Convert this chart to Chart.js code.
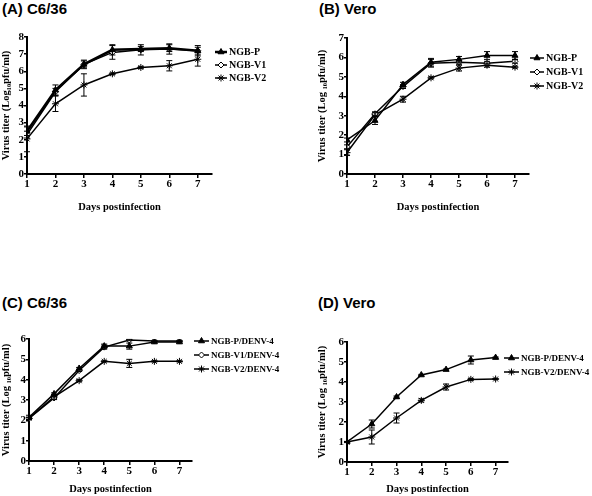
<!DOCTYPE html>
<html>
<head>
<meta charset="utf-8">
<script src="https://cdn.jsdelivr.net/npm/chart.js@4/dist/chart.umd.min.js"></script>
<style>
  body { margin: 0; background: #fff; width: 592px; height: 496px; position: relative; overflow: hidden; }
  canvas { position: absolute; }
  .ttl { position: absolute; font: bold 15px "Liberation Sans", Arial, sans-serif; line-height: 15px; color: #000; white-space: nowrap; }
</style>
</head>
<body>
<div class="ttl" style="left:2px;top:1px">(A) C6/36</div>
<div class="ttl" style="left:319px;top:1px">(B) Vero</div>
<div class="ttl" style="left:2px;top:295px">(C) C6/36</div>
<div class="ttl" style="left:318px;top:295px">(D) Vero</div>

<canvas id="cA" width="296" height="220" style="left:0;top:0"></canvas>
<canvas id="cB" width="296" height="220" style="left:296px;top:0"></canvas>
<canvas id="cC" width="296" height="248" style="left:0;top:248px"></canvas>
<canvas id="cD" width="296" height="248" style="left:296px;top:248px"></canvas>

<script>
// days post infection
const days = [1, 2, 3, 4, 5, 6, 7];

// (A) C6/36
const aP = [2.5, 4.9, 6.4, 7.25, 7.3, 7.35, 7.2];
const aPErr = [0.25, 0.3, 0.25, 0.3, 0.15, 0.2, 0.3];
const aV1 = [2.3, 4.8, 6.4, 7.1, 7.25, 7.3, 7.2];
const aV1Err = [0.2, 0.2, 0.2, 0.4, 0.3, 0.3, 0.2];
const aV2 = [2.05, 4.1, 5.2, 5.85, 6.22, 6.32, 6.7];
const aV2Err = [0.75, 0.45, 0.65, 0.05, 0.05, 0.3, 0.4];

// (B) Vero
const bP = [1.75, 2.75, 4.6, 5.75, 5.9, 6.1, 6.1];
const bPErr = [0.1, 0.2, 0.12, 0.2, 0.15, 0.2, 0.2];
const bV1 = [1.4, 3.1, 4.5, 5.7, 5.75, 5.7, 5.8];
const bV1Err = [0.1, 0.1, 0.1, 0.2, 0.1, 0.1, 0.1];
const bV2 = [1.1, 3.05, 3.85, 4.95, 5.45, 5.6, 5.5];
const bV2Err = [0.15, 0.1, 0.15, 0.05, 0.15, 0.1, 0.05];

// (C) C6/36, DENV-4
const cP = [2.15, 3.3, 4.55, 5.65, 5.65, 5.85, 5.85];
const cPErr = [0.1, 0.05, 0.05, 0.1, 0.15, 0.03, 0.03];
const cV1 = [2.1, 3.1, 4.45, 5.6, 5.95, 5.9, 5.9];
const cV1Err = [0.05, 0.08, 0.05, 0.1, 0.03, 0.03, 0.03];
const cV2 = [2.1, 3.15, 3.95, 4.9, 4.8, 4.9, 4.9];
const cV2Err = [0.05, 0.05, 0.05, 0.03, 0.2, 0.03, 0.03];

// (D) Vero, DENV-4
const dP = [1.0, 1.9, 3.25, 4.35, 4.62, 5.1, 5.22];
const dPErr = [0, 0.2, 0.05, 0.03, 0.03, 0.2, 0.03];
const dV2 = [1.0, 1.25, 2.2, 3.08, 3.75, 4.13, 4.15];
const dV2Err = [0.03, 0.35, 0.25, 0.08, 0.15, 0.05, 0.03];

const SERIF = '"Liberation Serif", "Times New Roman", serif';

// vertical error bars with caps
const errorBars = {
  id: 'errorBars',
  afterDatasetsDraw(chart) {
    const ctx = chart.ctx;
    const ys = chart.scales.y;
    chart.data.datasets.forEach((ds, i) => {
      if (!ds.errors) return;
      const meta = chart.getDatasetMeta(i);
      ctx.save();
      ctx.strokeStyle = '#000';
      ctx.lineWidth = 1;
      meta.data.forEach((pt, j) => {
        const e = ds.errors[j];
        if (!e) return;
        const v = ds.data[j].y;
        const y1 = ys.getPixelForValue(v + e);
        const y2 = ys.getPixelForValue(v - e);
        ctx.beginPath();
        ctx.moveTo(pt.x, y1); ctx.lineTo(pt.x, y2);
        ctx.moveTo(pt.x - 3, y1); ctx.lineTo(pt.x + 3, y1);
        ctx.moveTo(pt.x - 3, y2); ctx.lineTo(pt.x + 3, y2);
        ctx.stroke();
      });
      ctx.restore();
    });
  }
};

// legend drawn as line + marker, like the original figure
const lineLegend = {
  id: 'lineLegend',
  afterDraw(chart, args, opts) {
    const ctx = chart.ctx;
    const x0 = chart.chartArea.right + opts.dx;
    chart.data.datasets.forEach((ds, i) => {
      const y = opts.top + i * opts.gap;
      ctx.save();
      ctx.strokeStyle = '#000';
      ctx.lineWidth = ds.borderWidth;
      ctx.beginPath();
      ctx.moveTo(x0, y); ctx.lineTo(x0 + opts.len, y);
      ctx.stroke();
      ctx.fillStyle = ds.pointBackgroundColor;
      ctx.lineWidth = 1;
      Chart.helpers.drawPoint(ctx, { pointStyle: ds.pointStyle, radius: ds.pointRadius, borderWidth: 1, rotation: 0 }, x0 + opts.len / 2, y);
      ctx.fillStyle = '#000';
      ctx.font = 'bold ' + opts.size + 'px ' + SERIF;
      ctx.textBaseline = 'middle';
      ctx.fillText(ds.label, x0 + opts.len + 2, y + 0.5);
      ctx.restore();
    });
  }
};

function series(label, vals, errs, style, width) {
  return {
    label,
    data: days.map((d, i) => ({ x: d, y: vals[i] })),
    errors: errs,
    borderColor: '#000',
    borderWidth: width || 1.5,
    pointStyle: style,
    pointRadius: style === 'rectRot' ? 3 : 3.5,
    pointBorderColor: '#000',
    pointBorderWidth: 1,
    pointBackgroundColor: style === 'rectRot' ? '#fff' : '#000',
    tension: 0
  };
}

function axisFont(size) {
  return { family: SERIF, weight: 'bold', size };
}

function makePanel(id, datasets, ymax, yTitle, layout, legend) {
  new Chart(document.getElementById(id), {
    type: 'line',
    data: { datasets },
    options: {
      responsive: false,
      animation: false,
      layout: { padding: layout.pad },
      plugins: { legend: { display: false }, tooltip: { enabled: false }, lineLegend: legend },
      scales: {
        x: {
          type: 'linear', min: 1, max: 7.5,
          afterBuildTicks: a => { a.ticks = days.map(v => ({ value: v })); },
          afterFit: s => { s.height = layout.xH; },
          grid: { drawOnChartArea: false, drawTicks: true, tickLength: 4, color: '#000', lineWidth: 1.5 },
          border: { color: '#000', width: 2 },
          ticks: { color: '#000', font: axisFont(11), padding: 0, maxRotation: 0 },
          title: { display: true, text: 'Days postinfection', color: '#000', font: axisFont(10.5), padding: { top: 6, bottom: 0 } }
        },
        y: {
          min: 0, max: ymax,
          afterFit: s => { s.width = layout.yW; },
          grid: { drawOnChartArea: false, drawTicks: true, tickLength: 3, color: '#000', lineWidth: 1.5 },
          border: { color: '#000', width: 2 },
          ticks: { color: '#000', font: axisFont(11), padding: 0, stepSize: 1 },
          title: { display: true, text: yTitle, color: '#000', font: axisFont(10.5), padding: { top: 0, bottom: 2 } }
        }
      }
    },
    plugins: [errorBars, lineLegend]
  });
}

makePanel('cA', [
  series('NGB-P', aP, aPErr, 'triangle', 2.5),
  series('NGB-V1', aV1, aV1Err, 'rectRot'),
  series('NGB-V2', aV2, aV2Err, 'star')
], 8, 'Virus titer (Log\u2081\u2080pfu/ml)',
  { pad: { top: 37, right: 84, left: 0, bottom: 6 }, xH: 40, yW: 27 },
  { dx: 3, len: 12, top: 52, gap: 13, size: 10 });

makePanel('cB', [
  series('NGB-P', bP, bPErr, 'triangle'),
  series('NGB-V1', bV1, bV1Err, 'rectRot'),
  series('NGB-V2', bV2, bV2Err, 'star')
], 7, 'Virus titer (Log \u2081\u2080pfu/ml)',
  { pad: { top: 38, right: 63, left: 20, bottom: 6 }, xH: 40, yW: 31 },
  { dx: 1, len: 14, top: 58, gap: 14, size: 10 });

makePanel('cC', [
  series('NGB-P/DENV-4', cP, cPErr, 'triangle'),
  series('NGB-V1/DENV-4', cV1, cV1Err, 'rectRot'),
  series('NGB-V2/DENV-4', cV2, cV2Err, 'star')
], 6, 'Virus titer (Log \u2081\u2080pfu/ml)',
  { pad: { top: 91, right: 104, left: 0, bottom: 0 }, xH: 35, yW: 29 },
  { dx: 2, len: 15, top: 93, gap: 14, size: 9 });

makePanel('cD', [
  series('NGB-P/DENV-4', dP, dPErr, 'triangle'),
  series('NGB-V2/DENV-4', dV2, dV2Err, 'star')
], 6, 'Virus titer (Log \u2081\u2080pfu/ml)',
  { pad: { top: 94, right: 84, left: 20, bottom: 0 }, xH: 34, yW: 31 },
  { dx: -4, len: 15, top: 110, gap: 14, size: 9 });
</script>
</body>
</html>
